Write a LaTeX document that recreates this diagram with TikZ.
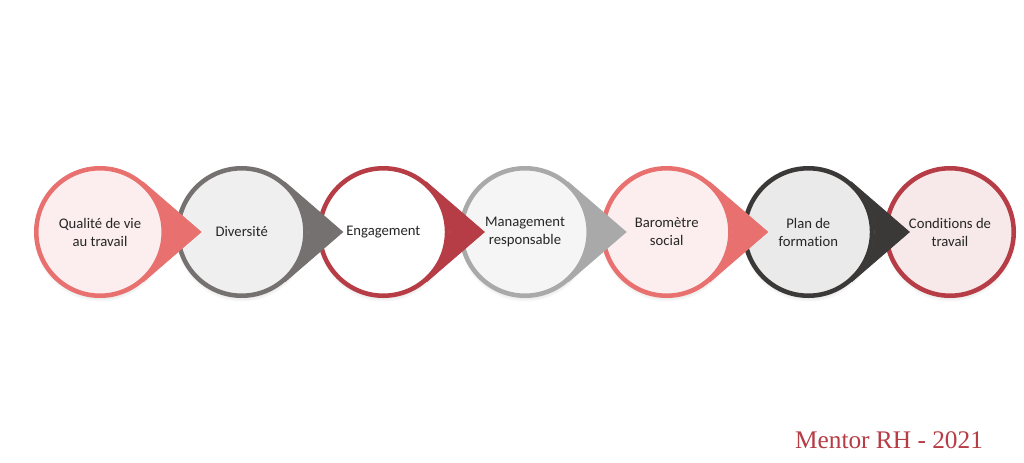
\documentclass[tikz,border=0pt]{standalone}
\usepackage{fontspec}
\setmainfont{Carlito}[Ligatures=NoCommon]
\newfontfamily\signfont{Liberation Serif}
\usetikzlibrary{shadows}

\definecolor{salmon}{HTML}{E8706E}
\definecolor{greyring}{HTML}{767171}
\definecolor{wine}{HTML}{B63C45}
\definecolor{silver}{HTML}{A9A9A9}
\definecolor{coal}{HTML}{3B3838}
\definecolor{pinkfill}{HTML}{FCEEEE}
\definecolor{greyfill}{HTML}{EFEFF0}
\definecolor{softfill}{HTML}{F5F5F5}
\definecolor{coalfill}{HTML}{EAEAEA}
\definecolor{rosefill}{HTML}{F7E9EA}
\definecolor{ink}{HTML}{262626}

\tikzset{
  stepnode/.style 2 args={circle, draw=#1, fill=#2, minimum size=95.6pt,
    inner sep=0pt, align=center, text=ink,
    font=\fontsize{11}{13.5}\selectfont,
    circular drop shadow={shadow xshift=0pt, shadow yshift=-2.5pt,
      shadow scale=1.04, opacity=0.35}},
  tip/.style={fill=#1, draw=#1, line width=0.6pt, line join=miter}
}

\begin{document}
\begin{tikzpicture}[x=0.75pt, y=0.75pt, line width=3.4pt]
  \fill[white] (0,0) rectangle (1024,462);
  \useasboundingbox (0,0) rectangle (1024,462);

  \node[stepnode={salmon}{pinkfill}]   (Q) at (100,230)   {Qualité de vie\\au travail};
  \node[stepnode={greyring}{greyfill}] (D) at (241.7,230) {Diversité};
  \node[stepnode={wine}{white}]        (E) at (383.3,230) {Engagement};
  \node[stepnode={silver}{softfill}]   (M) at (525,230)   {Management\\responsable};
  \node[stepnode={salmon}{pinkfill}]   (B) at (666.7,230) {Baromètre\\social};
  \node[stepnode={coal}{coalfill}]     (P) at (808.3,230) {Plan de\\formation};
  \node[stepnode={wine}{rosefill}]     (C) at (950,230)   {Conditions de\\travail};

  % pointed ends
  \coordinate (tQ) at (201,230);
  \coordinate (tD) at (342.7,230);
  \coordinate (tE) at (484.3,230);
  \coordinate (tM) at (626,230);
  \coordinate (tB) at (767.7,230);
  \coordinate (tP) at (909.3,230);

  \path[tip=salmon]   (Q.49) -- (tQ) -- (Q.-49) arc[start angle=-49, end angle=49, radius=49.5pt] -- cycle;
  \path[tip=greyring] (D.49) -- (tD) -- (D.-49) arc[start angle=-49, end angle=49, radius=49.5pt] -- cycle;
  \path[tip=wine]     (E.49) -- (tE) -- (E.-49) arc[start angle=-49, end angle=49, radius=49.5pt] -- cycle;
  \path[tip=silver]   (M.49) -- (tM) -- (M.-49) arc[start angle=-49, end angle=49, radius=49.5pt] -- cycle;
  \path[tip=salmon]   (B.49) -- (tB) -- (B.-49) arc[start angle=-49, end angle=49, radius=49.5pt] -- cycle;
  \path[tip=coal]     (P.49) -- (tP) -- (P.-49) arc[start angle=-49, end angle=49, radius=49.5pt] -- cycle;

  \node[anchor=base, text=wine, font=\signfont\fontsize{19}{21}\selectfont] (sign) at (889,14) {Mentor RH - 2021};
\end{tikzpicture}
\end{document}
